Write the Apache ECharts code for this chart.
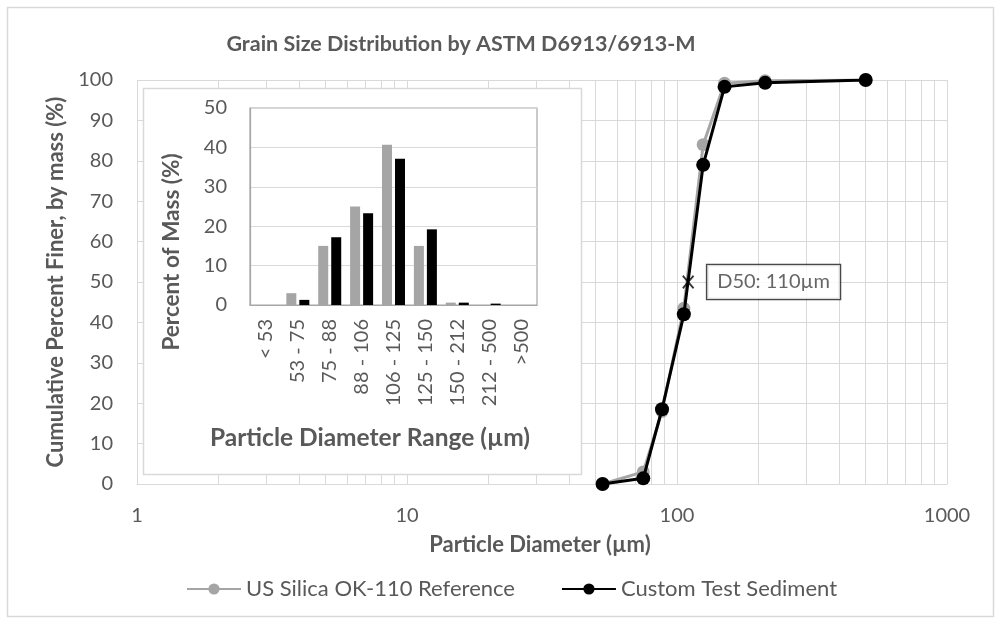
<!DOCTYPE html>
<html>
<head>
<meta charset="utf-8">
<script src="https://cdn.jsdelivr.net/npm/echarts@6/dist/echarts.min.js"></script>
<style>
html,body{margin:0;padding:0;background:#fff;}
#chart{width:1001px;height:624px;}
</style>
</head>
<body>
<div id="chart"></div>
<script>
// ---- Data ----
const sieveSizes = [53, 75, 88, 106, 125, 150, 212, 500];
const refCumulative = [0, 3, 18, 43.5, 84, 99.2, 99.8, 100];
const customCumulative = [0, 1.4, 18.5, 42, 79, 98.3, 99.3, 100];
const d50 = [110, 50];

const binCategories = ['< 53', '53 - 75', '75 - 88', '88 - 106', '106 - 125', '125 - 150', '150 - 212', '212 - 500', '>500'];
const refBins = [0, 3, 15, 25, 40.7, 15, 0.6, 0, 0];
const customBins = [0, 1.3, 17.2, 23.3, 37.1, 19.2, 0.6, 0.35, 0];

const seriesNames = ['US Silica OK-110 Reference', 'Custom Test Sediment'];
const titleText = 'Grain Size Distribution by ASTM D6913/6913-M';

// minor log gridlines (2..9 in each decade)
const minorX = [];
for (let d = 1; d < 1000; d *= 10) {
  for (let k = 2; k <= 9; k++) minorX.push(k * d);
}

const FONT = 'Lato';
const TXT = '#595959';
const GRID = '#d9d9d9';

const chart = echarts.init(document.getElementById('chart'), null, {renderer: 'canvas'});
chart.setOption({
  animation: false,
  backgroundColor: '#fff',
  textStyle: {fontFamily: FONT},
  title: {
    text: titleText,
    left: 456, textAlign: 'center', top: 28,
    textStyle: {fontFamily: FONT, fontSize: 21.5, fontWeight: 'bold', color: TXT}
  },
  legend: {
    data: seriesNames,
    left: 181, top: 573,
    itemWidth: 54, itemHeight: 14, itemGap: 46,
    textStyle: {fontFamily: FONT, fontSize: 22, color: TXT}
  },
  graphic: [
    {type: 'rect', z: 0, shape: {x: 7.5, y: 7.5, width: 986, height: 609}, style: {fill: 'none', stroke: GRID, lineWidth: 1.5}, silent: true},
    {type: 'rect', z: 10, shape: {x: 143.5, y: 88.5, width: 438, height: 386}, style: {fill: '#fff', stroke: GRID, lineWidth: 1.5}, silent: true}
  ],
  grid: [
    {left: 137, top: 80, width: 810, height: 404},
    {left: 250, top: 108, width: 287, height: 197, show: true, z: 11, borderColor: '#a6a6a6', borderWidth: 1.2, backgroundColor: 'transparent'}
  ],
  xAxis: [
    {
      type: 'log', logBase: 10, min: 1, max: 1000, gridIndex: 0,
      name: 'Particle Diameter (µm)', nameLocation: 'middle', nameGap: 50,
      nameTextStyle: {fontFamily: FONT, fontSize: 22, fontWeight: 'bold', color: TXT, padding: [0, 4, 0, 0]},
      axisLine: {show: true, lineStyle: {color: GRID, width: 1}},
      axisTick: {show: false},
      axisLabel: {fontFamily: FONT, fontSize: 20, color: TXT, margin: 22, formatter: v => String(v)},
      splitLine: {show: true, lineStyle: {color: GRID, width: 1}},
      minorTick: {show: false}, minorSplitLine: {show: false}
    },
    {
      type: 'category', gridIndex: 1, data: binCategories, z: 12,
      name: 'Particle Diameter Range (µm)', nameLocation: 'middle', nameGap: 121,
      nameTextStyle: {fontFamily: FONT, fontSize: 24.5, fontWeight: 'bold', color: TXT, padding: [0, 47, 0, 0]},
      axisLine: {show: true, lineStyle: {color: '#a6a6a6', width: 1.2}},
      axisTick: {show: false},
      axisLabel: {fontFamily: FONT, fontSize: 20, color: TXT, rotate: 90, interval: 0, margin: 14},
      splitLine: {show: false}
    }
  ],
  yAxis: [
    {
      type: 'value', gridIndex: 0, min: 0, max: 100, interval: 10,
      name: 'Cumulative Percent Finer, by mass (%)', nameLocation: 'middle', nameGap: 69,
      nameTextStyle: {fontFamily: FONT, fontSize: 22, fontWeight: 'bold', color: TXT},
      axisLine: {show: false}, axisTick: {show: false},
      axisLabel: {fontFamily: FONT, fontSize: 20, color: TXT, margin: 24},
      splitLine: {show: true, lineStyle: {color: GRID, width: 1}}
    },
    {
      type: 'value', gridIndex: 1, min: 0, max: 50, interval: 10, z: 12,
      name: 'Percent of Mass (%)', nameLocation: 'middle', nameGap: 67,
      nameTextStyle: {fontFamily: FONT, fontSize: 22.5, fontWeight: 'bold', color: TXT, padding: [0, 91, 0, 0]},
      axisLine: {show: true, lineStyle: {color: '#a6a6a6', width: 1.2}}, axisTick: {show: false},
      axisLabel: {fontFamily: FONT, fontSize: 20, color: TXT, margin: 23},
      splitLine: {show: true, lineStyle: {color: GRID, width: 1.2}}
    }
  ],
  series: [
    {
      name: '__minorGrid', type: 'line', xAxisIndex: 0, yAxisIndex: 0, data: [], z: 1, silent: true,
      markLine: {
        silent: true, z: 1, symbol: ['none', 'none'], label: {show: false},
        lineStyle: {color: GRID, width: 1, type: 'solid'},
        data: minorX.map(v => ({xAxis: v}))
      }
    },
    {
      name: seriesNames[0], type: 'line', xAxisIndex: 0, yAxisIndex: 0, z: 3,
      data: sieveSizes.map((s, i) => [s, refCumulative[i]]),
      symbol: 'circle', symbolSize: 13,
      itemStyle: {color: '#a5a5a5'},
      lineStyle: {color: '#a5a5a5', width: 3}
    },
    {
      name: seriesNames[1], type: 'line', xAxisIndex: 0, yAxisIndex: 0, z: 4,
      data: sieveSizes.map((s, i) => [s, customCumulative[i]]),
      symbol: 'circle', symbolSize: 14,
      itemStyle: {color: '#000'},
      lineStyle: {color: '#000', width: 3}
    },
    {
      name: 'D50', type: 'scatter', xAxisIndex: 0, yAxisIndex: 0, z: 5,
      data: [d50],
      symbol: 'path://M0,1L1,0L5,4L9,0L10,1L6,5L10,9L9,10L5,6L1,10L0,9L4,5Z',
      symbolSize: [12, 14],
      itemStyle: {color: '#000'},
      label: {
        show: true, position: 'right', distance: 13,
        formatter: () => 'D50: ' + d50[0] + 'µm',
        fontFamily: FONT, fontSize: 20, color: '#404040',
        backgroundColor: '#fff', borderColor: '#1a1a1a', borderWidth: 1.3,
        padding: [8, 10, 6, 10]
      }
    },
    {
      name: 'refBins', type: 'bar', xAxisIndex: 1, yAxisIndex: 1, z: 13,
      data: refBins, barWidth: 10, barGap: '30%',
      itemStyle: {color: '#a5a5a5'}
    },
    {
      name: 'customBins', type: 'bar', xAxisIndex: 1, yAxisIndex: 1, z: 13,
      data: customBins, barWidth: 10, barGap: '30%',
      itemStyle: {color: '#000'}
    }
  ]
});
</script>
</body>
</html>
